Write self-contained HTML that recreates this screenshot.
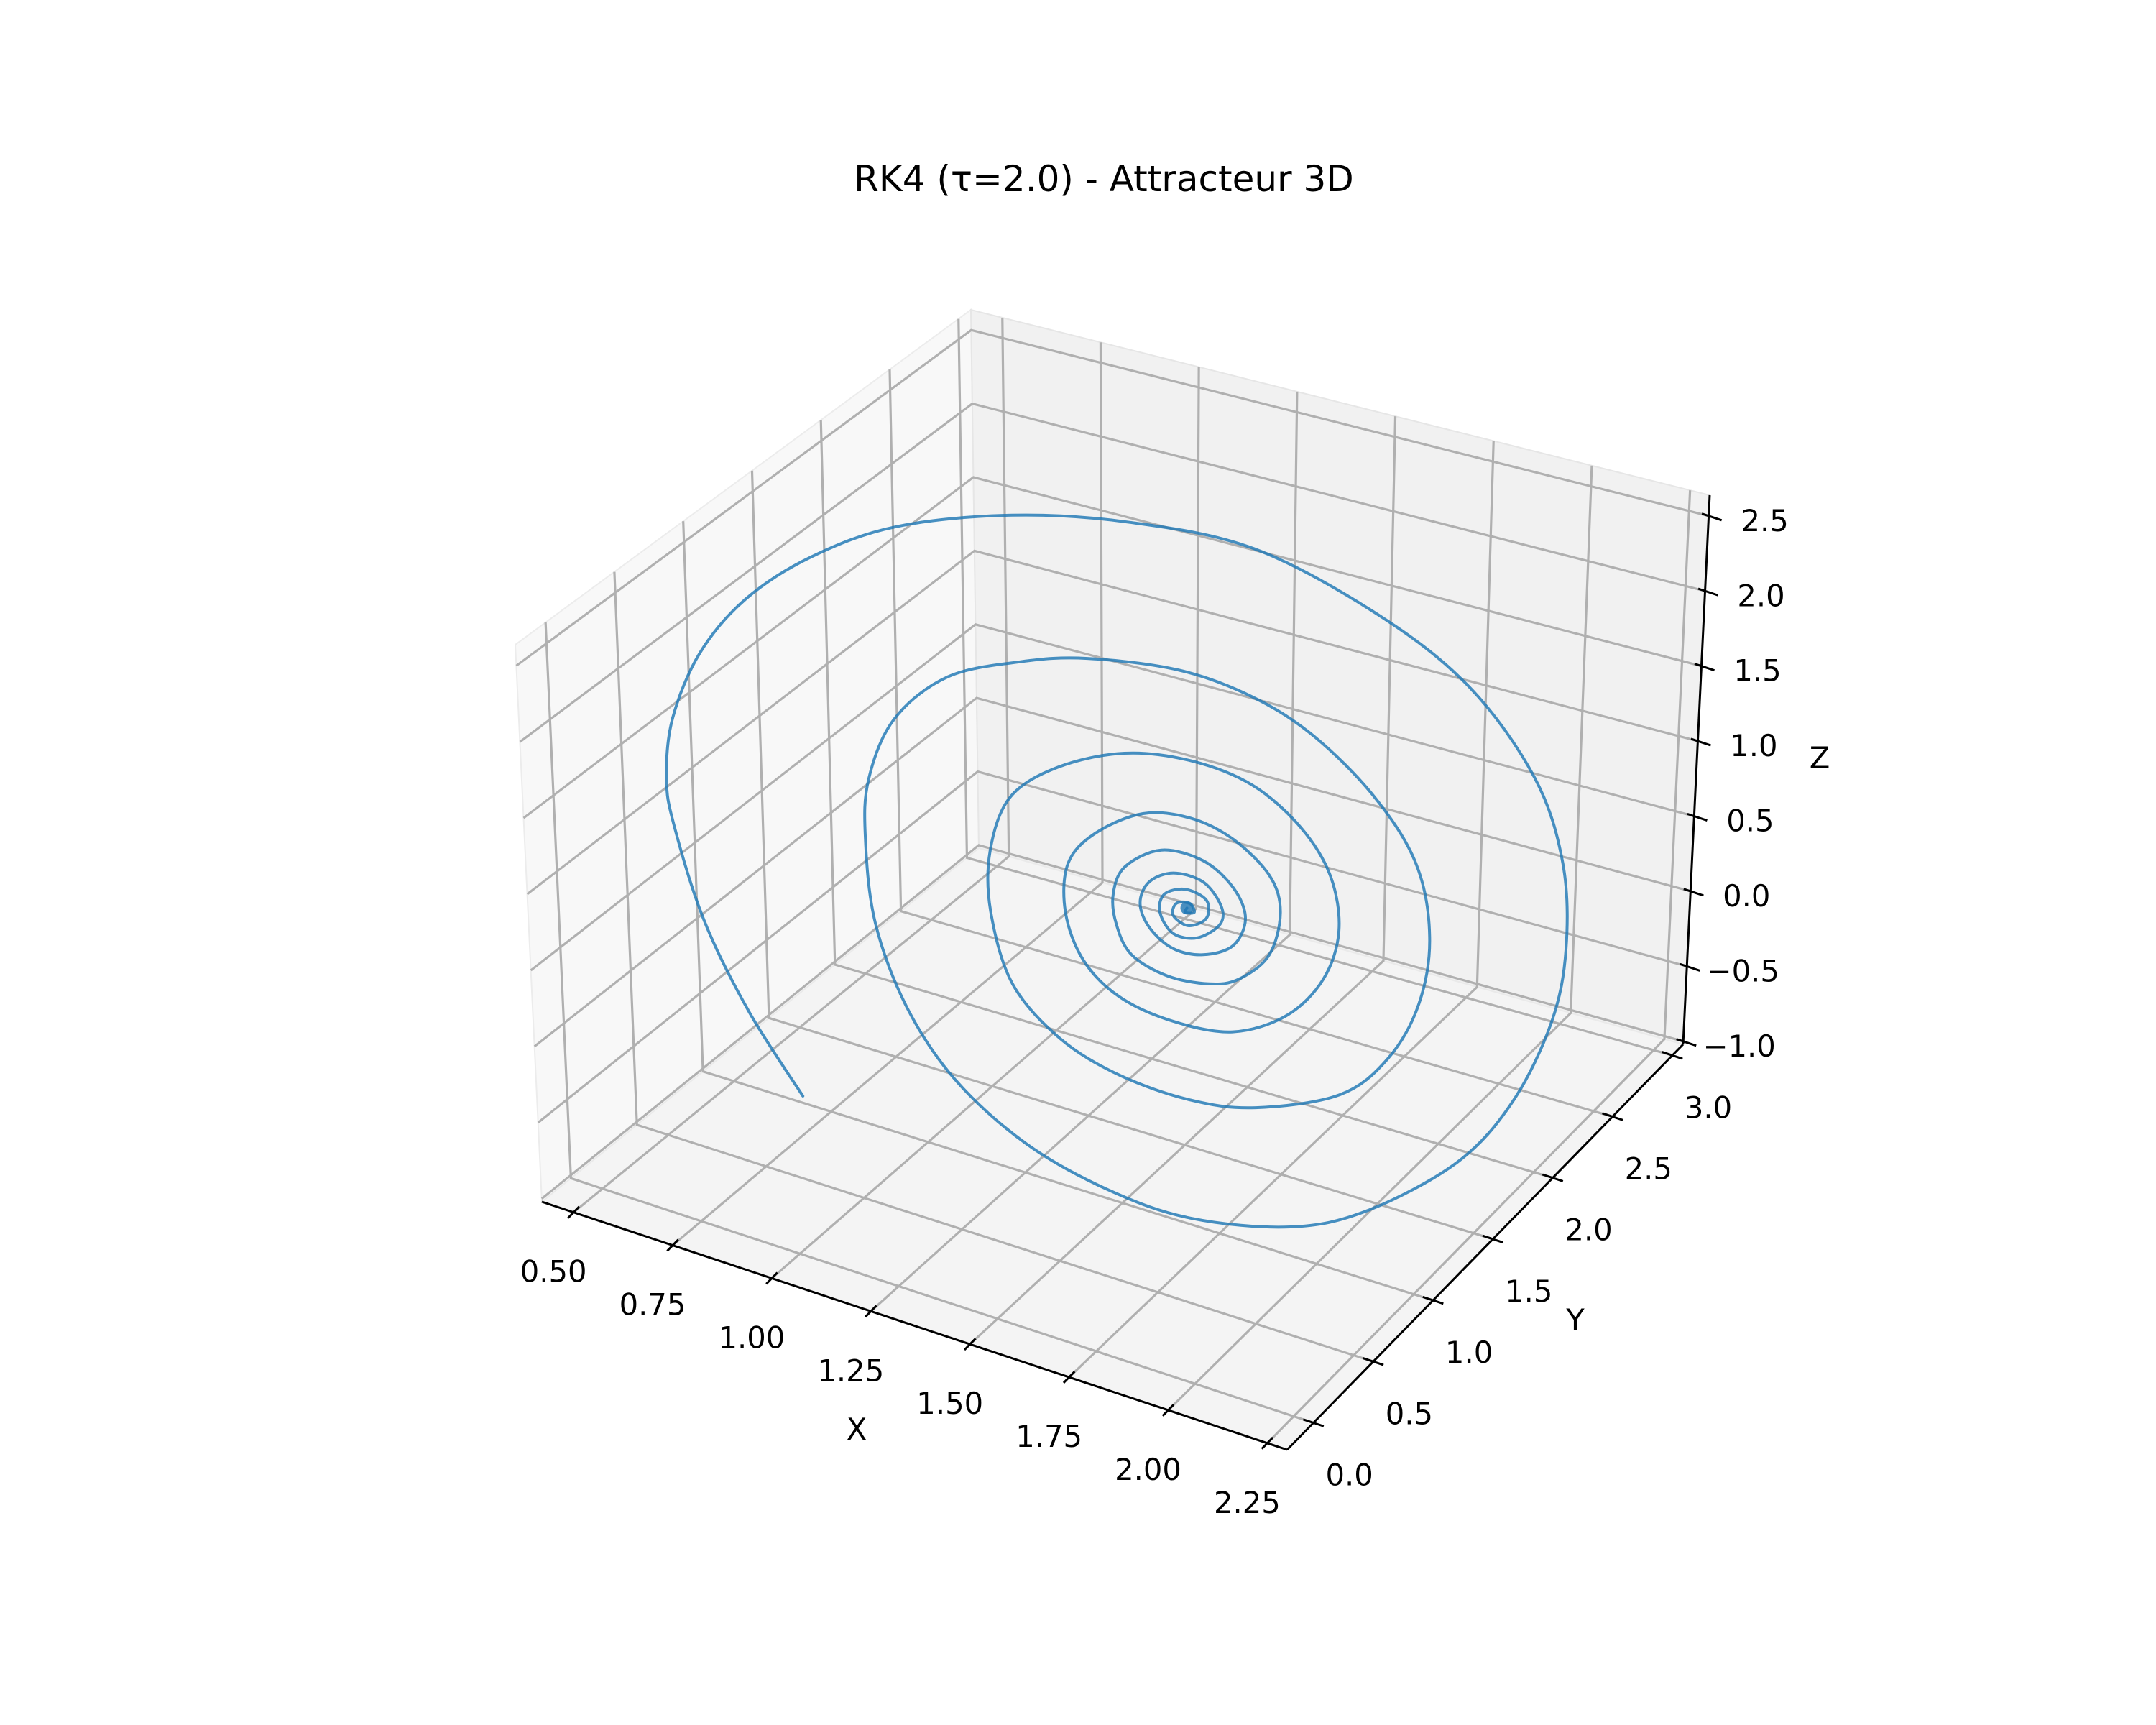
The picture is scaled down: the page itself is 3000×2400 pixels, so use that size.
<!DOCTYPE html>
<html><head><meta charset="utf-8"><style>
html,body{margin:0;padding:0;background:#fff;}
svg{display:block;}
text{font-family:"DejaVu Sans","Liberation Sans",sans-serif;fill:#000;}
</style></head>
<body>
<svg id="chart" xmlns="http://www.w3.org/2000/svg" width="3000" height="2400" viewBox="0 0 3000 2400">
<rect x="0" y="0" width="3000" height="2400" fill="#ffffff"/>
<text x="1536" y="266" font-size="50" text-anchor="middle">RK4 (τ=2.0) - Attracteur 3D</text>
<g id="panes"></g>
<g id="grid"></g>
<g id="axes"></g>
<g id="series"></g>
</svg>
<script>
// ---- data ----
const xValues = [0.409,0.273,0.164,0.094,0.079,0.101,0.178,0.300,0.469,0.685,0.977,1.270,1.578,1.887,2.118,2.288,2.366,2.382,2.352,2.260,2.122,1.892,1.692,1.430,1.214,0.998,0.813,0.689,0.611,0.590,0.602,0.671,0.809,0.994,1.163,1.394,1.579,1.734,1.888,1.997,2.036,2.013,1.937,1.814,1.598,1.429,1.244,1.089,0.966,0.911,0.911,0.964,1.087,1.256,1.426,1.580,1.704,1.781,1.805,1.767,1.674,1.536,1.382,1.243,1.150,1.104,1.111,1.180,1.303,1.426,1.534,1.627,1.655,1.628,1.551,1.474,1.366,1.274,1.235,1.227,1.257,1.350,1.458,1.535,1.566,1.535,1.458,1.381,1.320,1.296,1.319,1.381,1.458,1.504,1.501,1.443,1.381,1.347,1.358,1.412,1.466,1.466,1.420,1.381,1.389,1.423,1.435,1.412,1.416];
const zValues = [-1.742,-1.282,-0.760,-0.170,0.139,0.557,1.056,1.509,1.916,2.278,2.569,2.735,2.784,2.573,2.264,1.789,1.285,0.735,0.231,-0.360,-0.864,-1.358,-1.619,-1.763,-1.743,-1.603,-1.320,-0.931,-0.427,0.120,0.530,0.983,1.367,1.605,1.752,1.844,1.802,1.656,1.370,1.009,0.557,0.098,-0.320,-0.653,-0.902,-0.981,-0.958,-0.833,-0.564,-0.122,0.279,0.680,0.972,1.191,1.266,1.220,1.031,0.768,0.424,0.075,-0.235,-0.447,-0.494,-0.437,-0.265,0.021,0.348,0.600,0.825,0.885,0.825,0.653,0.433,0.132,-0.086,-0.176,-0.204,-0.133,0.039,0.234,0.437,0.618,0.627,0.504,0.326,0.123,0.005,-0.012,0.082,0.225,0.383,0.489,0.486,0.360,0.238,0.106,0.088,0.203,0.331,0.404,0.372,0.252,0.169,0.208,0.294,0.320,0.269,0.251,0.283];
const yValues = xValues.map(() => 1.766);
const xTicks = [0.50,0.75,1.00,1.25,1.50,1.75,2.00,2.25];
const yTicks = [0.0,0.5,1.0,1.5,2.0,2.5,3.0];
const zTicks = [-1.0,-0.5,0.0,0.5,1.0,1.5,2.0,2.5];
const xTickLabels = ["0.50","0.75","1.00","1.25","1.50","1.75","2.00","2.25"];
const yTickLabels = ["0.0","0.5","1.0","1.5","2.0","2.5","3.0"];
const zTickLabels = ["\u22121.0","\u22120.5","0.0","0.5","1.0","1.5","2.0","2.5"];
const xLimits = [0.42, 2.30];
const yLimits = [-0.22, 3.09];
const zLimits = [-1.02, 2.638];

// ---- projection (box corners on screen) ----
const corner = {
  "000":[754,1672],"100":[1791,2017],"110":[2342,1453],"010":[1362,1180],
  "001":[717,897],"101":[1802,1227],"111":[2379,689],"011":[1351,431]
};
function proj(x,y,z){
  const u=(x-xLimits[0])/(xLimits[1]-xLimits[0]);
  const v=(y-yLimits[0])/(yLimits[1]-yLimits[0]);
  const w=(z-zLimits[0])/(zLimits[1]-zLimits[0]);
  let px=0,py=0;
  for(const i of [0,1])for(const j of [0,1])for(const k of [0,1]){
    const f=(i?u:1-u)*(j?v:1-v)*(k?w:1-w);
    const c=corner[""+i+j+k];
    px+=f*c[0];py+=f*c[1];
  }
  return [px,py];
}
const NS="http://www.w3.org/2000/svg";
function mk(tag,parent,attrs){const e=document.createElementNS(NS,tag);for(const k in attrs)e.setAttribute(k,attrs[k]);parent.appendChild(e);return e;}
const [x0,x1]=xLimits,[y0,y1]=yLimits,[z0,z1]=zLimits;
const pts=a=>a.map(p=>p.join(",")).join(" ");

// panes
const panes=document.getElementById('panes');
let el;
el=mk('polygon',panes,{points:pts([proj(x0,y0,z0),proj(x0,y0,z1),proj(x0,y1,z1),proj(x0,y1,z0)]),fill:"#f8f8f8",stroke:"#ececec","stroke-width":2});


el=mk('polygon',panes,{points:pts([proj(x0,y1,z0),proj(x0,y1,z1),proj(x1,y1,z1),proj(x1,y1,z0)]),fill:"#f1f1f1",stroke:"#e6e6e6","stroke-width":2});


el=mk('polygon',panes,{points:pts([proj(x0,y0,z0),proj(x1,y0,z0),proj(x1,y1,z0),proj(x0,y1,z0)]),fill:"#f4f4f4",stroke:"#eaeaea","stroke-width":2});



// gridlines
const grid=document.getElementById('grid');
const gs={fill:"none",stroke:"#b0b0b0","stroke-width":3.2};
xTicks.forEach(t=>{
  el=mk('polyline',grid,Object.assign({points:pts([proj(t,y0,z0),proj(t,y1,z0),proj(t,y1,z1)])},gs));
  
  
});
yTicks.forEach(t=>{
  el=mk('polyline',grid,Object.assign({points:pts([proj(x1,t,z0),proj(x0,t,z0),proj(x0,t,z1)])},gs));
  
  
});
zTicks.forEach(t=>{
  el=mk('polyline',grid,Object.assign({points:pts([proj(x0,y0,t),proj(x0,y1,t),proj(x1,y1,t)])},gs));
  
  
});

// axes
const axes=document.getElementById('axes');
function unit(a,b){const dx=b[0]-a[0],dy=b[1]-a[1],l=Math.hypot(dx,dy);return [dx/l,dy/l];}
const ls={stroke:"#000","stroke-width":3};
function axisLine(a,b,name){el=mk('line',axes,Object.assign({x1:a[0],y1:a[1],x2:b[0],y2:b[1]},ls));}
axisLine(proj(x0,y0,z0),proj(x1,y0,z0),'x-axis-line');
axisLine(proj(x1,y0,z0),proj(x1,y1,z0),'y-axis-line');
axisLine(proj(x1,y1,z0),proj(x1,y1,z1),'z-axis-line');
const dY=unit(proj(x1,y0,z0),proj(x1,y1,z0));
const dX=unit(proj(x0,y0,z0),proj(x1,y0,z0));
xTicks.forEach((t,i)=>{
  const p=proj(t,y0,z0);
  el=mk('line',axes,Object.assign({x1:p[0]+dY[0]*11,y1:p[1]+dY[1]*11,x2:p[0]-dY[0]*11,y2:p[1]-dY[1]*11},ls));
  
  
  el=mk('text',axes,{x:p[0]-28,y:p[1]+82+15,"font-size":41.7,"text-anchor":"middle"});
  el.textContent=xTickLabels[i];
  
  
});
yTicks.forEach((t,i)=>{
  const p=proj(x1,t,z0);
  el=mk('line',axes,Object.assign({x1:p[0]-dX[0]*15,y1:p[1]-dX[1]*15,x2:p[0]+dX[0]*15,y2:p[1]+dX[1]*15},ls));
  
  
  el=mk('text',axes,{x:p[0]+50,y:p[1]+72+15,"font-size":41.7,"text-anchor":"middle"});
  el.textContent=yTickLabels[i];
  
  
});
zTicks.forEach((t,i)=>{
  const p=proj(x1,y1,t);
  el=mk('line',axes,Object.assign({x1:p[0]-dX[0]*10,y1:p[1]-dX[1]*10,x2:p[0]+dX[0]*19,y2:p[1]+dX[1]*19},ls));
  
  
  el=mk('text',axes,{x:p[0]+78,y:p[1]+6+15,"font-size":41.7,"text-anchor":"middle"});
  el.textContent=zTickLabels[i];
  
  
});
el=mk('text',axes,{x:1192,y:2003,"font-size":41.7,"text-anchor":"middle"});
el.textContent="X";


el=mk('text',axes,{x:2192,y:1851,"font-size":41.7,"text-anchor":"middle"});
el.textContent="Y";


el=mk('text',axes,{x:2532,y:1069,"font-size":41.7,"text-anchor":"middle"});
el.textContent="Z";



// series
const series=document.getElementById('series');
const P=xValues.map((x,i)=>proj(x,yValues[i],zValues[i]));
let d="M"+P[0][0].toFixed(1)+","+P[0][1].toFixed(1);
for(let i=0;i<P.length-1;i++){
  const p0=P[Math.max(0,i-1)],p1=P[i],p2=P[i+1],p3=P[Math.min(P.length-1,i+2)];
  const c1=[p1[0]+(p2[0]-p0[0])/6,p1[1]+(p2[1]-p0[1])/6];
  const c2=[p2[0]-(p3[0]-p1[0])/6,p2[1]-(p3[1]-p1[1])/6];
  d+=" C"+c1.map(v=>v.toFixed(1)).join(",")+" "+c2.map(v=>v.toFixed(1)).join(",")+" "+p2.map(v=>v.toFixed(1)).join(",");
}
el=mk('path',series,{d:d,fill:"none",stroke:"#1f77b4","stroke-opacity":0.82,"stroke-width":4,"stroke-linejoin":"round","stroke-linecap":"round"});


const last=P[P.length-1];
el=mk('circle',series,{cx:last[0],cy:last[1],r:9,fill:"#1f77b4","fill-opacity":0.8});


</script>
</body></html>
